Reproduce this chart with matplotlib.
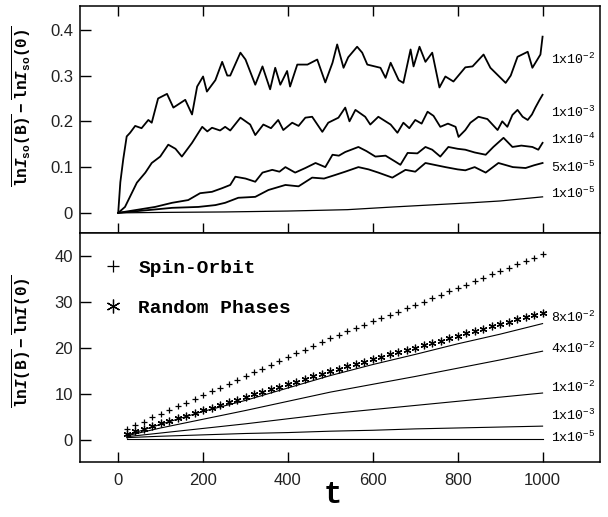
import matplotlib
matplotlib.use("Agg")
import matplotlib.pyplot as plt

plt.rcParams['mathtext.fontset'] = 'custom'
plt.rcParams['mathtext.rm'] = 'Liberation Mono'
plt.rcParams['mathtext.bf'] = 'Liberation Mono:bold'
plt.rcParams['mathtext.it'] = 'Liberation Mono:bold:italic'

# ---- top panel: lnI_so(B) - lnI_so(0), noisy curves
t_1e2 = [0, 5, 12, 20, 28, 40, 55, 71, 79, 94, 115, 130, 158, 174, 186, 200, 209, 229, 245, 257,
         264, 288, 300, 323, 340, 358, 370, 382, 398, 405, 422, 446, 469, 488, 505, 516, 531, 542, 563, 575,
         587, 618, 630, 642, 661, 672, 689, 696, 710, 724, 740, 757, 771, 790, 818, 835, 861, 877, 913, 925,
         941, 965, 976, 995, 1000]
v_1e2 = [0, 0.067, 0.118, 0.167, 0.175, 0.19, 0.185, 0.203, 0.197, 0.25, 0.26, 0.23, 0.247, 0.215, 0.276, 0.298, 0.265, 0.29, 0.33, 0.30,
         0.30, 0.35, 0.335, 0.28, 0.32, 0.27, 0.317, 0.28, 0.31, 0.276, 0.324, 0.324, 0.335, 0.285, 0.328, 0.368, 0.317, 0.34, 0.363, 0.35,
         0.324, 0.317, 0.295, 0.328, 0.29, 0.284, 0.357, 0.32, 0.363, 0.33, 0.35, 0.274, 0.298, 0.287, 0.318, 0.32, 0.346, 0.317, 0.284, 0.30,
         0.341, 0.352, 0.317, 0.346, 0.385]

t_1e3 = [0, 16, 44, 64, 79, 99, 118, 135, 150, 174, 189, 198, 210, 221, 240, 252, 264, 288, 311, 323,
         342, 360, 377, 389, 410, 425, 441, 457, 481, 495, 519, 535, 545, 559, 582, 594, 613, 630, 642, 658,
         672, 686, 700, 715, 729, 743, 759, 777, 795, 802, 818, 830, 849, 870, 894, 905, 917, 929, 941, 953,
         965, 975, 983, 993, 1000]
v_1e3 = [0, 0.013, 0.066, 0.088, 0.109, 0.123, 0.149, 0.14, 0.123, 0.153, 0.175, 0.188, 0.178, 0.186, 0.18, 0.188, 0.18, 0.208, 0.193, 0.17,
         0.193, 0.185, 0.203, 0.181, 0.197, 0.19, 0.208, 0.21, 0.177, 0.197, 0.208, 0.23, 0.2, 0.225, 0.21, 0.193, 0.21, 0.2, 0.193, 0.175,
         0.197, 0.185, 0.203, 0.195, 0.221, 0.212, 0.188, 0.195, 0.188, 0.166, 0.181, 0.197, 0.21, 0.205, 0.181, 0.2, 0.188, 0.214, 0.225, 0.21,
         0.203, 0.215, 0.23, 0.247, 0.258]

t_1e4 = [0, 47, 87, 127, 165, 193, 221, 245, 264, 276, 300, 323, 340, 363, 380, 394, 417, 441, 465, 488,
         505, 520, 535, 566, 585, 606, 630, 653, 665, 682, 705, 724, 740, 759, 778, 800, 818, 840, 866, 884,
         908, 929, 950, 976, 990, 1000]
v_1e4 = [0, 0.007, 0.013, 0.022, 0.028, 0.043, 0.046, 0.054, 0.061, 0.079, 0.075, 0.068, 0.088, 0.094, 0.09, 0.1, 0.088, 0.098, 0.109, 0.1,
         0.127, 0.125, 0.133, 0.144, 0.135, 0.123, 0.125, 0.112, 0.105, 0.131, 0.13, 0.144, 0.138, 0.123, 0.144, 0.14, 0.138, 0.132, 0.127, 0.144,
         0.164, 0.144, 0.147, 0.144, 0.138, 0.153]

t_5e5 = [0, 47, 127, 189, 229, 252, 283, 323, 354, 394, 425, 457, 485, 512, 535, 566, 590, 613, 646, 677,
         700, 724, 750, 771, 800, 818, 840, 866, 896, 930, 960, 980, 1000]
v_5e5 = [0, 0.004, 0.011, 0.013, 0.017, 0.022, 0.033, 0.035, 0.05, 0.061, 0.058, 0.077, 0.075, 0.083, 0.09, 0.1, 0.095, 0.088, 0.077, 0.094,
         0.09, 0.109, 0.104, 0.1, 0.095, 0.093, 0.1, 0.088, 0.109, 0.1, 0.098, 0.104, 0.109]

t_1e5 = [0, 100, 250, 400, 540, 650, 750, 830, 900, 1000]
v_1e5 = [0, 0.001, 0.002, 0.004, 0.007, 0.013, 0.018, 0.022, 0.026, 0.035]

top_labels = ['1x10$^{-2}$', '1x10$^{-3}$', '1x10$^{-4}$', '5x10$^{-5}$', '1x10$^{-5}$']
top_label_y = [0.335, 0.219, 0.160, 0.100, 0.042]

# ---- bottom panel: lnI(B) - lnI(0)
t_mark = [20, 40, 60, 80, 100, 120, 140, 160, 180, 200, 220, 240, 260, 280, 300, 320, 340, 360, 380, 400,
          420, 440, 460, 480, 500, 520, 540, 560, 580, 600, 620, 640, 660, 680, 700, 720, 740, 760, 780, 800,
          820, 840, 860, 880, 900, 920, 940, 960, 980, 1000]
spin_orbit = [2.4, 3.2, 4.0, 4.9, 5.7, 6.5, 7.3, 8.1, 9.0, 9.8, 10.6, 11.4, 12.2, 13.1, 13.9, 14.7, 15.5, 16.3, 17.2, 18.0,
              18.8, 19.6, 20.4, 21.3, 22.1, 22.8, 23.6, 24.3, 25.0, 25.8, 26.5, 27.2, 27.9, 28.7, 29.4, 30.1, 30.9, 31.6, 32.3, 33.0,
              33.8, 34.5, 35.2, 36.0, 36.7, 37.4, 38.2, 38.9, 39.6, 40.4]
random_phases = [1.3, 1.9, 2.4, 3.0, 3.6, 4.2, 4.7, 5.3, 5.9, 6.4, 7.0, 7.6, 8.2, 8.7, 9.3, 9.9, 10.4, 11.0, 11.6, 12.2,
                 12.7, 13.3, 13.9, 14.4, 15.0, 15.5, 16.0, 16.5, 17.0, 17.5, 18.1, 18.6, 19.1, 19.6, 20.1, 20.6, 21.1, 21.6, 22.1, 22.6,
                 23.2, 23.7, 24.2, 24.7, 25.2, 25.7, 26.2, 26.7, 27.2, 27.7]

t_line = [20, 100, 200, 300, 400, 500, 600, 700, 800, 900, 1000]
b_8e2 = [1.0, 3.4, 6.2, 8.6, 11.3, 14.0, 16.4, 18.6, 20.9, 23.0, 25.3]
b_4e2 = [0.9, 2.6, 4.5, 6.4, 8.4, 10.4, 12.1, 13.8, 15.6, 17.4, 19.3]
b_1e2 = [0.7, 1.5, 2.5, 3.5, 4.6, 5.7, 6.6, 7.5, 8.4, 9.3, 10.2]
b_1e3 = [0.5, 0.8, 1.1, 1.4, 1.6, 1.9, 2.1, 2.4, 2.6, 2.8, 3.0]
b_1e5 = [0.2, 0.2, 0.2, 0.2, 0.2, 0.2, 0.2, 0.2, 0.2, 0.2, 0.2]

bot_labels = ['8x10$^{-2}$', '4x10$^{-2}$', '1x10$^{-2}$', '1x10$^{-3}$', '1x10$^{-5}$']
bot_label_y = [26.7, 20.0, 11.5, 5.4, 0.65]

xticks = [0, 200, 400, 600, 800, 1000]

fig = plt.figure(figsize=(6.08, 5.17), dpi=100)
ax1 = fig.add_axes([0.1316, 0.5493, 0.855, 0.4391])
ax2 = fig.add_axes([0.1316, 0.1064, 0.855, 0.4429])

tick_font = {'family': 'Liberation Sans', 'size': 12}

for t, v in [(t_1e2, v_1e2), (t_1e3, v_1e3), (t_1e4, v_1e4), (t_5e5, v_5e5)]:
    ax1.plot(t, v, color='black', lw=1.3)
ax1.plot(t_1e5, v_1e5, color='black', lw=0.9)
for lab, y in zip(top_labels, top_label_y):
    ax1.text(1020, y, lab, family='Liberation Mono', fontsize=9.5, ha='left', va='center')

ax1.set_xlim(-90, 1135)
ax1.set_ylim(-0.044, 0.452)
ax1.set_xticks(xticks)
ax1.set_yticks([0, 0.1, 0.2, 0.3, 0.4])
ax1.set_yticklabels(['0', '0.1', '0.2', '0.3', '0.4'])
ax1.tick_params(axis='x', direction='in', top=True, bottom=True, labelbottom=False, length=7, width=1)
ax1.tick_params(axis='y', direction='in', length=8, width=1, pad=5)

ax2.plot(t_mark, spin_orbit, ls='none', marker='+', ms=5, mew=0.9, color='black', label='Spin-Orbit')
ax2.plot(t_mark, random_phases, ls='none', marker=(6, 2, 0), ms=5.5, mew=0.9, color='black', label='Random Phases')
for v in [b_8e2, b_4e2, b_1e2, b_1e3, b_1e5]:
    ax2.plot(t_line, v, color='black', lw=0.8)
for lab, y in zip(bot_labels, bot_label_y):
    ax2.text(1020, y, lab, family='Liberation Mono', fontsize=9.5, ha='left', va='center')

ax2.set_xlim(-90, 1135)
ax2.set_ylim(-4.8, 45.0)
ax2.set_xticks(xticks)
ax2.set_yticks([0, 10, 20, 30, 40])
ax2.tick_params(axis='x', direction='in', length=7, width=1, pad=8)
ax2.tick_params(axis='y', direction='in', length=8, width=1, pad=5)

for ax in (ax1, ax2):
    for lab in ax.get_xticklabels() + ax.get_yticklabels():
        lab.set_fontproperties(tick_font)
        lab.set_color('#222222')
    for s in ax.spines.values():
        s.set_linewidth(1.1)

leg = ax2.legend(loc='upper left', bbox_to_anchor=(0.045, 0.885), frameon=False,
                 prop={'family': 'Liberation Mono', 'weight': 'bold', 'size': 14},
                 handlelength=1.0, handletextpad=0.8, labelspacing=1.15,
                 borderpad=0, borderaxespad=0, markerscale=1.8)

fig.text(333 / 608, 1 - 495 / 517, 't', family='Liberation Mono', fontweight='bold',
         fontsize=22, ha='center', va='center')

fig.text(22 / 608, 1 - 106 / 517,
         r'$\overline{\mathbf{ln}\mathit{I}_{\mathbf{so}}\mathbf{(B)}}\ \mathbf{-}\ \overline{\mathbf{ln}\mathit{I}_{\mathbf{so}}\mathbf{(0)}}$',
         rotation=90, ha='center', va='center', fontsize=11.5)
fig.text(22 / 608, 1 - 341 / 517,
         r'$\overline{\mathbf{ln}\mathit{I}\mathbf{(B)}}\ \mathbf{-}\ \overline{\mathbf{ln}\mathit{I}\mathbf{(0)}}$',
         rotation=90, ha='center', va='center', fontsize=11.5)

fig.savefig('out.png', dpi=100)
